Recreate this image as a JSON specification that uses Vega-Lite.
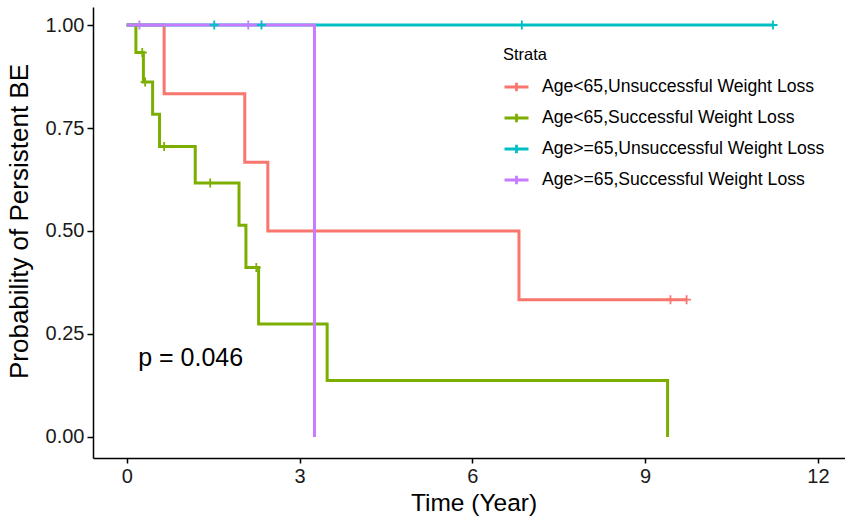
{
  "$schema": "https://vega.github.io/schema/vega-lite/v6.json",
  "width": 752,
  "height": 451,
  "autosize": "none",
  "padding": {"left": 93, "top": 7, "right": 0, "bottom": 64},
  "background": "white",
  "config": {"view": {"stroke": null}, "font": "Liberation Sans"},
  "datasets": {
    "curves": [
      {"strata": "Age<65,Unsuccessful Weight Loss", "time": 0, "surv": 1},
      {"strata": "Age<65,Unsuccessful Weight Loss", "time": 0.65, "surv": 0.8333},
      {"strata": "Age<65,Unsuccessful Weight Loss", "time": 2.05, "surv": 0.6667},
      {"strata": "Age<65,Unsuccessful Weight Loss", "time": 2.45, "surv": 0.5},
      {"strata": "Age<65,Unsuccessful Weight Loss", "time": 6.81, "surv": 0.3333},
      {"strata": "Age<65,Unsuccessful Weight Loss", "time": 9.72, "surv": 0.3333},
      {"strata": "Age<65,Successful Weight Loss", "time": 0, "surv": 1},
      {"strata": "Age<65,Successful Weight Loss", "time": 0.16, "surv": 0.9333},
      {"strata": "Age<65,Successful Weight Loss", "time": 0.29, "surv": 0.8615},
      {"strata": "Age<65,Successful Weight Loss", "time": 0.45, "surv": 0.7832},
      {"strata": "Age<65,Successful Weight Loss", "time": 0.57, "surv": 0.7049},
      {"strata": "Age<65,Successful Weight Loss", "time": 1.19, "surv": 0.6168},
      {"strata": "Age<65,Successful Weight Loss", "time": 1.95, "surv": 0.514},
      {"strata": "Age<65,Successful Weight Loss", "time": 2.07, "surv": 0.4112},
      {"strata": "Age<65,Successful Weight Loss", "time": 2.29, "surv": 0.2741},
      {"strata": "Age<65,Successful Weight Loss", "time": 3.48, "surv": 0.1371},
      {"strata": "Age<65,Successful Weight Loss", "time": 9.39, "surv": 0},
      {"strata": "Age>=65,Unsuccessful Weight Loss", "time": 0, "surv": 1},
      {"strata": "Age>=65,Unsuccessful Weight Loss", "time": 11.22, "surv": 1},
      {"strata": "Age>=65,Successful Weight Loss", "time": 0, "surv": 1},
      {"strata": "Age>=65,Successful Weight Loss", "time": 3.26, "surv": 0}
    ],
    "censors": [
      {"strata": "Age<65,Unsuccessful Weight Loss", "time": 9.44, "surv": 0.3333},
      {"strata": "Age<65,Unsuccessful Weight Loss", "time": 9.72, "surv": 0.3333},
      {"strata": "Age<65,Successful Weight Loss", "time": 0.27, "surv": 0.9333},
      {"strata": "Age<65,Successful Weight Loss", "time": 0.32, "surv": 0.8615},
      {"strata": "Age<65,Successful Weight Loss", "time": 0.65, "surv": 0.7049},
      {"strata": "Age<65,Successful Weight Loss", "time": 1.45, "surv": 0.6168},
      {"strata": "Age<65,Successful Weight Loss", "time": 2.25, "surv": 0.4112},
      {"strata": "Age>=65,Unsuccessful Weight Loss", "time": 1.52, "surv": 1},
      {"strata": "Age>=65,Unsuccessful Weight Loss", "time": 2.34, "surv": 1},
      {"strata": "Age>=65,Unsuccessful Weight Loss", "time": 6.86, "surv": 1},
      {"strata": "Age>=65,Unsuccessful Weight Loss", "time": 11.22, "surv": 1},
      {"strata": "Age>=65,Successful Weight Loss", "time": 0.22, "surv": 1},
      {"strata": "Age>=65,Successful Weight Loss", "time": 2.11, "surv": 1}
    ],
    "annot": [
      {"label": "p = 0.046", "time": 0.2, "surv": 0.173}
    ]
  },
  "encoding": {
    "x": {
      "field": "time",
      "type": "quantitative",
      "scale": {"domain": [-0.585, 12.47], "nice": false, "zero": false},
      "axis": {
        "title": "Time (Year)",
        "values": [0, 3, 6, 9, 12],
        "grid": false,
        "domainColor": "black",
        "domainWidth": 1.5,
        "tickColor": "black",
        "tickWidth": 1.5,
        "tickSize": 5,
        "labelFontSize": 20,
        "labelColor": "#1a1a1a",
        "labelPadding": 3.5,
        "labelFlush": false,
        "titleFontSize": 24.5,
        "titleFontWeight": "normal",
        "titleColor": "black",
        "titleBaseline": "alphabetic",
        "titleX": 380.5,
        "titleY": 52,
        "titleAlign": "center"
      }
    },
    "y": {
      "field": "surv",
      "type": "quantitative",
      "scale": {"domain": [-0.051, 1.0437], "nice": false, "zero": false},
      "axis": {
        "title": "Probability of Persistent BE",
        "values": [0, 0.25, 0.5, 0.75, 1],
        "format": ".2f",
        "grid": false,
        "domainColor": "black",
        "domainWidth": 1.5,
        "tickColor": "black",
        "tickWidth": 1.5,
        "tickSize": 6,
        "labelFontSize": 20,
        "labelColor": "#1a1a1a",
        "labelPadding": 3,
        "labelFlush": false,
        "titleFontSize": 26,
        "titleFontWeight": "normal",
        "titleColor": "black",
        "titleBaseline": "alphabetic",
        "titleAngle": -90,
        "titleX": -66,
        "titleY": 214,
        "titleAlign": "center"
      }
    }
  },
  "layer": [
    {
      "data": {"name": "curves"},
      "mark": {"type": "line", "interpolate": "step-after", "strokeWidth": 3},
      "encoding": {
        "color": {
          "field": "strata",
          "type": "nominal",
          "scale": {
            "domain": ["Age<65,Unsuccessful Weight Loss", "Age<65,Successful Weight Loss", "Age>=65,Unsuccessful Weight Loss", "Age>=65,Successful Weight Loss"],
            "range": ["#F8766D", "#7CAE00", "#00BFC4", "#C77CFF"]
          },
          "legend": {
            "orient": "none",
            "legendX": 410,
            "legendY": 40,
            "title": "Strata",
            "titleFontSize": 16.5,
            "titleFontWeight": "normal",
            "titleColor": "black",
            "titlePadding": 10,
            "labelFontSize": 17.6,
            "labelColor": "black",
            "labelOffset": 12,
            "labelLimit": 400,
            "symbolType": "M-1,0L1,0M0,-0.35L0,0.35",
            "symbolSize": 576,
            "symbolStrokeWidth": 2.8,
            "rowPadding": 7,
            "padding": 0
          }
        }
      }
    },
    {
      "data": {"name": "censors"},
      "mark": {"type": "point", "shape": "M-1,0L1,0M0,-1L0,1", "size": 81, "filled": false, "strokeWidth": 1.8, "opacity": 1},
      "encoding": {
        "color": {"field": "strata", "type": "nominal"}
      }
    },
    {
      "data": {"name": "annot"},
      "mark": {"type": "text", "align": "left", "baseline": "alphabetic", "fontSize": 25, "color": "black"},
      "encoding": {
        "text": {"field": "label", "type": "nominal"}
      }
    }
  ]
}
